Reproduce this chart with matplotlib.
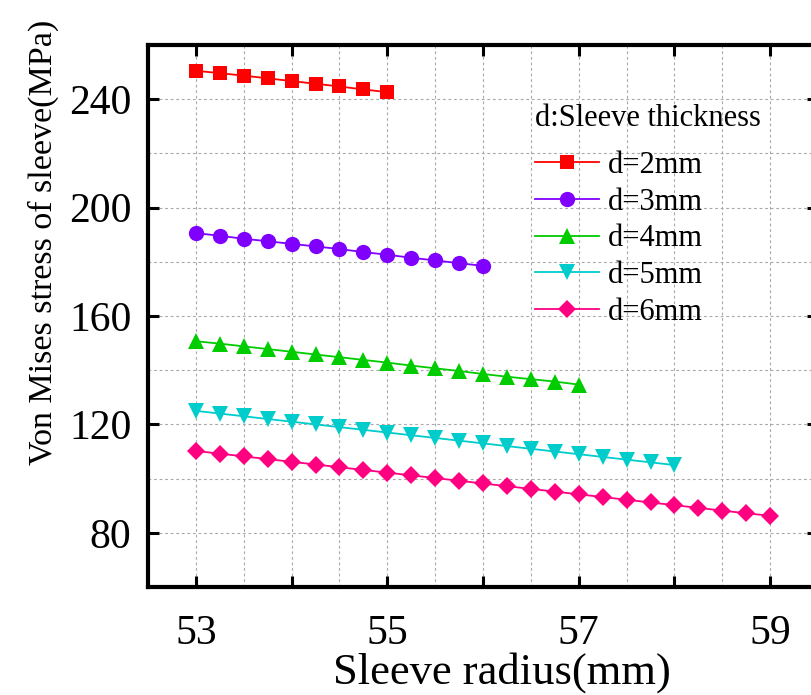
import matplotlib
matplotlib.use("Agg")
import matplotlib.pyplot as plt

plt.rcParams['font.family'] = ['Liberation Serif', 'DejaVu Serif']

# ---- data ----
x_d2 = [53.0, 53.25, 53.5, 53.75, 54.0, 54.25, 54.5, 54.75, 55.0]
y_d2 = [250.5, 249.6, 248.7, 247.7, 246.7, 245.7, 244.7, 243.6, 242.6]

x_d3 = [53.0, 53.25, 53.5, 53.75, 54.0, 54.25, 54.5, 54.75, 55.0, 55.25, 55.5, 55.75, 56.0]
y_d3 = [190.6, 189.6, 188.5, 187.6, 186.6, 185.7, 184.7, 183.6, 182.6, 181.5, 180.5, 179.5, 178.5]

x_d4 = [53.0, 53.25, 53.5, 53.75, 54.0, 54.25, 54.5, 54.75, 55.0, 55.25, 55.5, 55.75,
        56.0, 56.25, 56.5, 56.75, 57.0]
y_d4 = [150.7, 149.8, 148.8, 147.8, 146.8, 145.8, 144.8, 143.8, 142.8, 141.7, 140.7, 139.7,
        138.6, 137.6, 136.7, 135.8, 134.7]

x_d5 = [53.0, 53.25, 53.5, 53.75, 54.0, 54.25, 54.5, 54.75, 55.0, 55.25, 55.5, 55.75,
        56.0, 56.25, 56.5, 56.75, 57.0, 57.25, 57.5, 57.75, 58.0]
y_d5 = [125.0, 124.0, 123.0, 122.0, 121.0, 120.0, 119.0, 118.0, 117.0, 116.0, 115.0, 114.0,
        113.0, 112.0, 111.0, 110.0, 109.0, 108.0, 107.0, 106.0, 105.0]

x_d6 = [53.0, 53.25, 53.5, 53.75, 54.0, 54.25, 54.5, 54.75, 55.0, 55.25, 55.5, 55.75,
        56.0, 56.25, 56.5, 56.75, 57.0, 57.25, 57.5, 57.75, 58.0, 58.25, 58.5, 58.75, 59.0]
y_d6 = [110.2, 109.2, 108.2, 107.2, 106.2, 105.2, 104.2, 103.2, 102.2, 101.2, 100.2, 99.2,
        98.2, 97.2, 96.2, 95.2, 94.2, 93.2, 92.2, 91.2, 90.2, 89.2, 88.2, 87.2, 86.3]

labels = ["d=2mm", "d=3mm", "d=4mm", "d=5mm", "d=6mm"]
xticks_labeled = [53, 55, 57, 59]
yticks_labeled = [80, 120, 160, 200, 240]

series = [(x_d2, y_d2, '#FF0000', 's', 10),
          (x_d3, y_d3, '#8000FF', 'o', 11),
          (x_d4, y_d4, '#00CC00', '^', 11),
          (x_d5, y_d5, '#00CCCC', 'v', 11),
          (x_d6, y_d6, '#FF0080', 'D', 9.5)]

W, H = 811, 695
fig = plt.figure(figsize=(W / 100, H / 100), dpi=100)
left, right, top, bottom = 148, 818, 45, 587
ax = fig.add_axes([left / W, 1 - bottom / H, (right - left) / W, (bottom - top) / H])

for (xs, ys, c, m, ms), lab in zip(series, labels):
    ax.plot(xs, ys, color=c, lw=1.3, marker=m, markersize=ms, markeredgewidth=0,
            label=lab)

ax.set_xlim(52.5, 59.5)
ax.set_ylim(60, 260)

ax.set_xticks(xticks_labeled)
ax.set_xticks([54, 56, 58], minor=True)
ax.set_yticks(yticks_labeled)

# grid lines every 0.5 in x and 20 in y
for gx in [53 + 0.5 * i for i in range(14)]:
    ax.axvline(gx, color='#A8A8A8', lw=0.8, ls=(0, (2.5, 2.5)), zorder=0)
for gy in [80 + 20 * i for i in range(10)]:
    ax.axhline(gy, color='#A8A8A8', lw=0.8, ls=(0, (2.5, 2.5)), zorder=0)

for s in ax.spines.values():
    s.set_linewidth(3)

ax.tick_params(axis='both', which='both', direction='in', top=True, right=True,
               length=8, width=2.2, labelsize=30)
ax.tick_params(axis='x', which='both', pad=20)
ax.tick_params(axis='y', which='both', pad=12)
ax.tick_params(axis='x', which='minor', labelbottom=False)

ax.set_xlabel("Sleeve radius(mm)", fontsize=32)
ax.xaxis.set_label_coords(0.528, -0.12)
ax.set_ylabel("Von Mises stress of sleeve(MPa)", fontsize=24.5)
ax.yaxis.set_label_coords(-0.133, 0.635)

leg = ax.legend(loc='upper left', bbox_to_anchor=(535 / W, 1 - 104 / H),
                bbox_transform=fig.transFigure, frameon=False, fontsize=22,
                title="d:Sleeve thickness", title_fontsize=22, alignment='left',
                handlelength=2.1, handletextpad=0.3, labelspacing=0.25,
                borderpad=0, borderaxespad=0)
leg._legend_box.sep = 13

fig.savefig("out.png", dpi=100)
